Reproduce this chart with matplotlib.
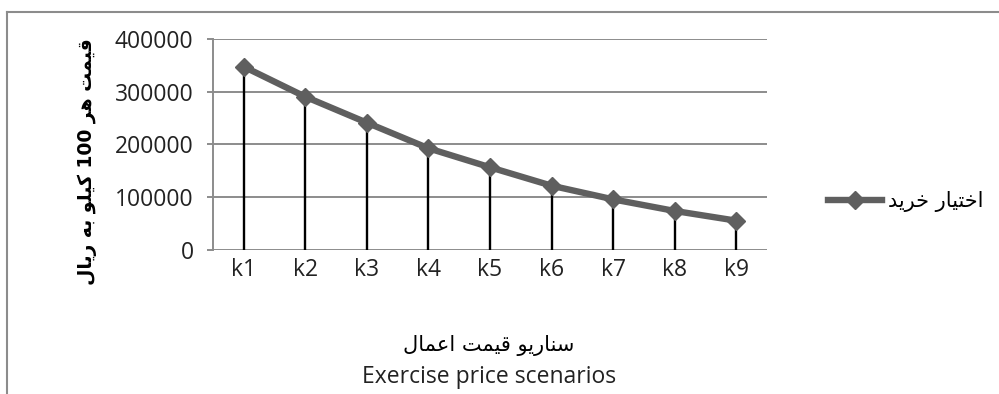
import matplotlib
matplotlib.use("Agg")
import matplotlib.pyplot as plt
from matplotlib.lines import Line2D

# data
categories = ["k1", "k2", "k3", "k4", "k5", "k6", "k7", "k8", "k9"]
call_values = [347500, 290500, 241300, 192800, 156800, 121900, 96000, 74000, 55600]
y_ticks = [0, 100000, 200000, 300000, 400000]

series_name = "اختیار خرید"
y_title = "قیمت هر 100 کیلو به ریال"
x_title_fa = "سناریو قیمت اعمال"
x_title_en = "Exercise price scenarios"

# simple Persian shaping (matplotlib does no shaping / bidi by itself)
# letter: (isolated, final, initial, medial); None for right-joining letters
FORMS = {
    "ا": (0xFE8D, 0xFE8E, None, None),
    "د": (0xFEA9, 0xFEAA, None, None),
    "ر": (0xFEAD, 0xFEAE, None, None),
    "و": (0xFEED, 0xFEEE, None, None),
    "ب": (0xFE8F, 0xFE90, 0xFE91, 0xFE92),
    "ت": (0xFE95, 0xFE96, 0xFE97, 0xFE98),
    "خ": (0xFEA5, 0xFEA6, 0xFEA7, 0xFEA8),
    "س": (0xFEB1, 0xFEB2, 0xFEB3, 0xFEB4),
    "ع": (0xFEC9, 0xFECA, 0xFECB, 0xFECC),
    "ق": (0xFED5, 0xFED6, 0xFED7, 0xFED8),
    "ل": (0xFEDD, 0xFEDE, 0xFEDF, 0xFEE0),
    "م": (0xFEE1, 0xFEE2, 0xFEE3, 0xFEE4),
    "ن": (0xFEE5, 0xFEE6, 0xFEE7, 0xFEE8),
    "ه": (0xFEE9, 0xFEEA, 0xFEEB, 0xFEEC),
    "ی": (0xFBFC, 0xFBFD, 0xFBFE, 0xFBFF),
    "ک": (0xFB8E, 0xFB8F, 0xFB90, 0xFB91),
}


def shape_word(w):
    out = []
    for i, c in enumerate(w):
        if c not in FORMS:
            out.append(c)
            continue
        prev = w[i - 1] if i > 0 else None
        nxt = w[i + 1] if i + 1 < len(w) else None
        joins_prev = prev in FORMS and FORMS[prev][2] is not None
        dual = FORMS[c][2] is not None
        joins_next = dual and nxt in FORMS
        iso, fin, ini, med = FORMS[c]
        if joins_prev and joins_next:
            code = med
        elif joins_prev:
            code = fin
        elif joins_next:
            code = ini
        else:
            code = iso
        out.append(chr(code))
    return "".join(out)


def fa(text):
    words = text.split(" ")
    vis = []
    for w in words:
        if w.isdigit():
            vis.append(w)
        else:
            vis.append(shape_word(w)[::-1])
    return " ".join(vis[::-1])


plt.rcParams["font.family"] = ["Open Sans", "DejaVu Sans"]
LAT = ["Open Sans", "DejaVu Sans"]
AR = ["DejaVu Sans"]

fig = plt.figure(figsize=(9.99, 3.94), dpi=100)
ax = fig.add_axes([0.2132, 0.3655, 0.5546, 0.5355])

x = range(len(categories))
ax.vlines(x, 0, call_values, colors="black", linewidth=1.7, zorder=2)
ax.plot(x, call_values, color="#5f5f5f", linewidth=4.6, marker="D",
        markersize=9.5, zorder=3, label=fa(series_name))

ax.set_xlim(-0.5, len(categories) - 0.5)
ax.set_ylim(0, 400000)
ax.set_yticks(y_ticks)
ax.set_yticklabels([str(v) for v in y_ticks], fontsize=16.5, family=LAT, color="#222222")
ax.set_xticks(list(x))
ax.set_xticklabels(categories, fontsize=16.5, family=LAT, color="#222222")
ax.tick_params(axis="x", length=0, pad=6)
ax.tick_params(axis="y", length=4, width=1.4, color="#8c8c8c", pad=10)
ax.yaxis.grid(True, color="#8c8c8c", linewidth=1.4, zorder=0)
ax.set_axisbelow(True)
for s in ["top", "right", "bottom"]:
    ax.spines[s].set_visible(False)
ax.spines["left"].set_color("#8c8c8c")
ax.spines["left"].set_linewidth(1.4)

fig.text(87 / 999, 1 - 162 / 394, fa(y_title), rotation=90, ha="center", va="center",
         fontsize=13.5, fontweight="bold", family=AR)

fig.text(489 / 999, 1 - 345 / 394, fa(x_title_fa), ha="center", va="center", fontsize=15, family=AR)
fig.text(489 / 999, 1 - 377 / 394, x_title_en, ha="center", va="center", fontsize=16.5, family=LAT,
         color="#222222")

leg = ax.legend(loc="center left", bbox_to_anchor=(1.095, 0.23), frameon=False,
                handlelength=2.6, handletextpad=0.3, prop={"family": AR, "size": 15},
                borderaxespad=0)

# outer border (top and left only visible)
fig.add_artist(Line2D([0.007, 1.0], [0.969, 0.969], color="#8c8c8c", linewidth=1.5))
fig.add_artist(Line2D([0.007, 0.007], [0.0, 0.969], color="#8c8c8c", linewidth=1.5))

fig.savefig("out.png", dpi=100, facecolor="white")
